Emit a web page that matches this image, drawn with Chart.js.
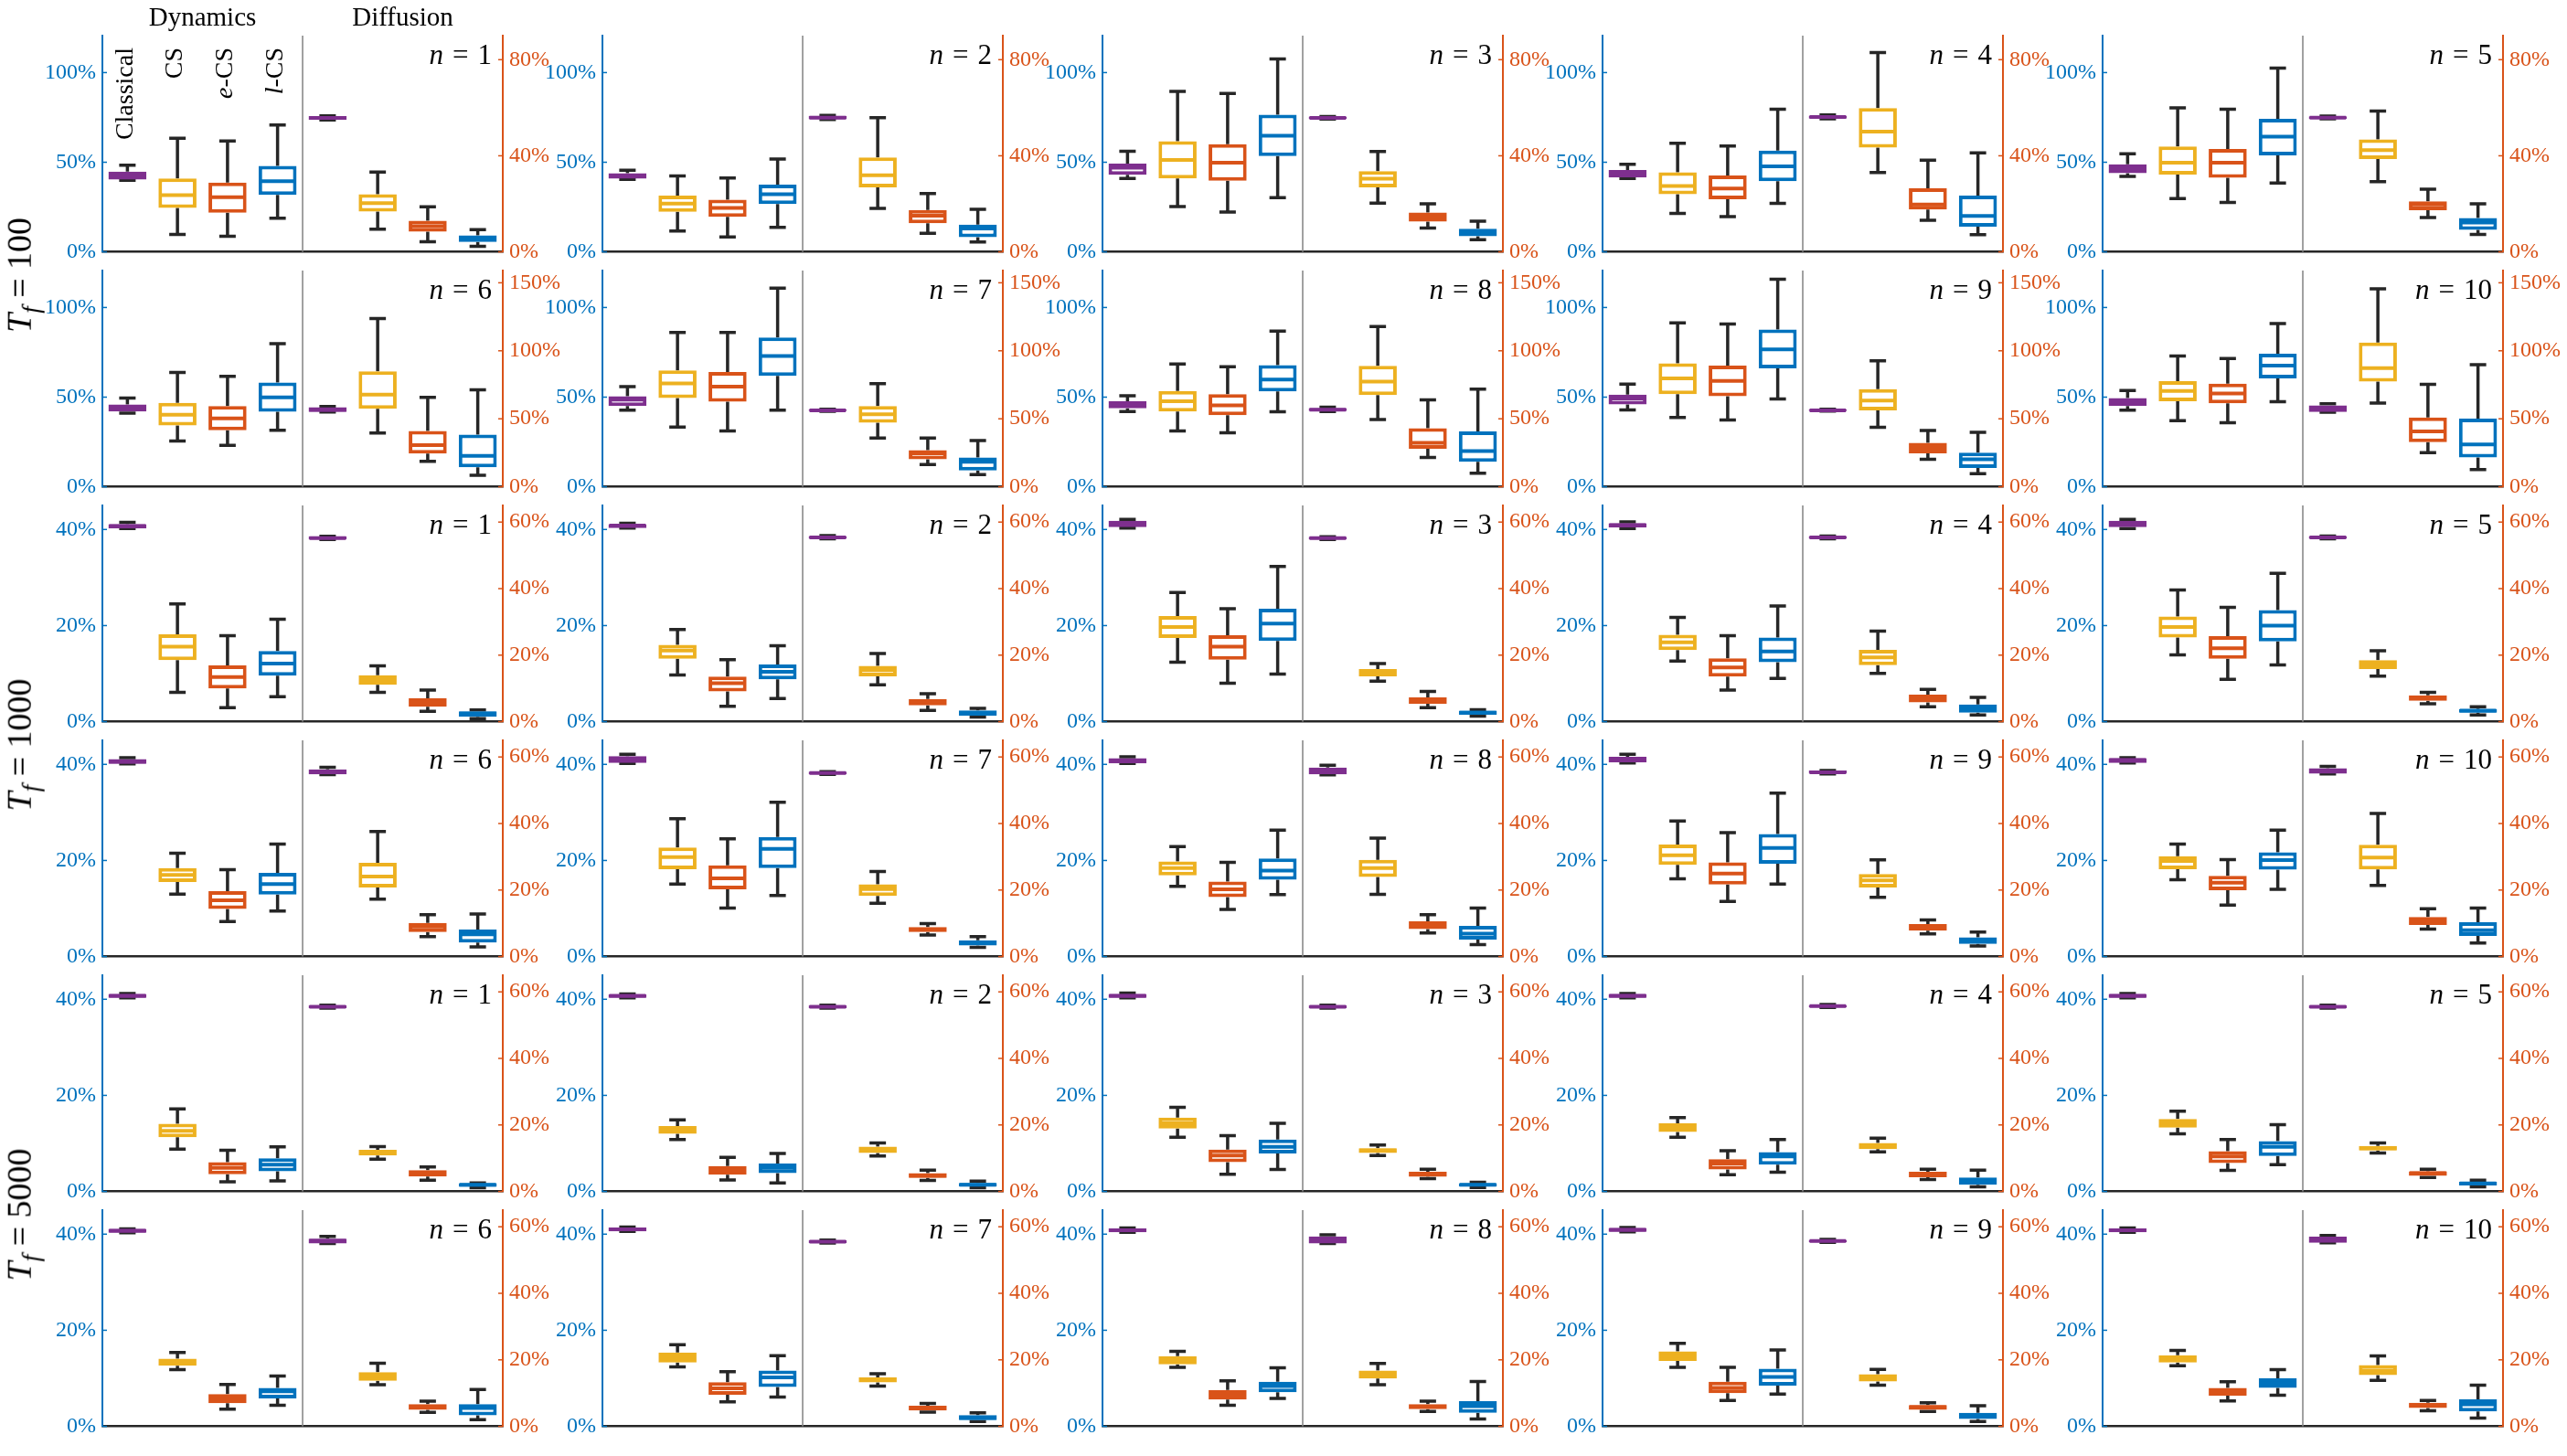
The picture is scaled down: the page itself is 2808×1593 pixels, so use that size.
<!DOCTYPE html>
<html>
<head>
<meta charset="utf-8">
<script src="https://cdn.jsdelivr.net/npm/chart.js@4.4.1/dist/chart.umd.min.js"></script>
<style>
  body { margin: 0; background: #fff; width: 2808px; height: 1593px; position: relative; overflow: hidden; font-family: "Liberation Serif", serif; }
  canvas { position: absolute; }
  .rowlab { position: absolute; font-size: 38px; white-space: nowrap; color: #000;
            transform: translate(-50%, -50%) rotate(-90deg); }
  .rowlab sub { font-size: 27px; }
</style>
</head>
<body>
<script>
// panel order: Tf = 100 (n = 1..10), Tf = 1000 (n = 1..10), Tf = 5000 (n = 1..10)
// every box is [lower whisker, q1, median, q3, upper whisker] in percent
const tfLabels = ['100', '1000', '5000'];
const methods = ['Classical', 'CS', 'e-CS', 'l-CS'];

// axis ranges for the six rows of panels
const leftMax = [120.6, 120.6, 45, 45, 45, 45];
const leftStep = [50, 50, 20, 20, 20, 20];
const rightMax = [90, 159, 65, 65, 65, 65];
const rightStep = [40, 50, 20, 20, 20, 20];

// dynamics (left axis)
const dynClassical = [
  [40, 40.3, 42.4, 44.8, 48.4], [40.4, 40.8, 42.4, 43.9, 45.5], [41, 43, 46.9, 49.3, 56.1], [41, 41.5, 43.9, 45.7, 48.9], [42.1, 43.9, 46.6, 48.9, 54.7],
  [41.1, 42, 44.1, 45.9, 49.5], [42.7, 45, 48.6, 50.5, 55.9], [42, 43.8, 45.9, 47.7, 50.8], [42.9, 45.9, 49.2, 51.4, 57.3], [42.7, 45, 47.4, 49.5, 53.7],
  [40.2, 40.2, 40.7, 41.1, 41.5], [40.3, 40.3, 40.8, 41.1, 41.3], [40.3, 40.5, 41.1, 41.8, 42.1], [40.2, 40.4, 40.9, 41.3, 41.6], [40.2, 40.5, 41.1, 41.8, 42.1],
  [40.1, 40.1, 40.6, 41.1, 41.4], [40.2, 40.3, 41.1, 41.7, 42.1], [40.2, 40.2, 40.8, 41.3, 41.6], [40.3, 40.4, 41.1, 41.6, 42.1], [40.3, 40.3, 40.9, 41.3, 41.4],
  [40.3, 40.3, 40.7, 41.1, 41.2], [40.3, 40.3, 40.7, 41, 41.1], [40.3, 40.3, 40.7, 41.1, 41.3], [40.3, 40.3, 40.7, 41.1, 41.2], [40.3, 40.3, 40.7, 41.1, 41.2],
  [40.3, 40.3, 40.7, 41.1, 41.1], [40.6, 40.6, 41, 41.4, 41.5], [40.4, 40.4, 40.8, 41.2, 41.3], [40.5, 40.5, 40.9, 41.3, 41.4], [40.4, 40.4, 40.8, 41.2, 41.3]
];
const dynCS = [
  [9.7, 24.5, 31.6, 41, 63.4], [11.6, 22.4, 26.9, 31.4, 42.4], [25.3, 41, 51.3, 61.7, 89.5], [21.5, 32.1, 36.8, 44.4, 60.6], [29.8, 43.1, 49.8, 58.8, 80.3],
  [25.6, 34.2, 40.2, 46.8, 63.8], [33.3, 49.5, 57.7, 64.9, 86.1], [31.2, 42, 47.7, 53.5, 68.5], [38.7, 51.7, 60.4, 68.8, 91.4], [36.9, 47.7, 53.5, 58.9, 73],
  [6.1, 12.8, 15.6, 18.2, 24.5], [9.7, 13.1, 14.8, 16, 19.2], [12.4, 17.4, 19.7, 22, 26.9], [12.6, 14.9, 16.5, 18.1, 21.7], [13.9, 17.5, 19.7, 21.9, 27.4],
  [13, 15.5, 17, 18.4, 21.5], [15.1, 18.2, 20.7, 22.7, 28.7], [14.6, 16.9, 18.4, 19.8, 22.9], [16.2, 19.1, 21.1, 23.3, 28.2], [16, 18.2, 19.9, 20.9, 23.4],
  [8.8, 11.3, 12.6, 14.1, 17.2], [10.8, 12, 12.8, 13.6, 14.9], [11.3, 13.1, 14.2, 15.4, 17.5], [11.3, 12.4, 13.4, 14.2, 15.4], [12, 13.3, 14.1, 15.1, 16.7],
  [11.8, 12.6, 13.5, 14.1, 15.4], [12.4, 13.3, 14.4, 15.4, 17], [12.3, 12.9, 13.8, 14.6, 15.6], [12.3, 13.6, 14.6, 15.6, 17.3], [12.6, 13.3, 14.1, 14.8, 15.8]
];
const dynECS = [
  [8.7, 21.8, 30.5, 38.6, 61.9], [8.3, 19.5, 24.5, 29.1, 41.2], [22.2, 39.7, 49.8, 60.1, 88.4], [19.7, 29.4, 35.4, 42.6, 59], [27.6, 41.3, 49.8, 57.4, 79.6],
  [23.1, 31.5, 38.2, 45, 61.6], [31.2, 47.4, 55.9, 64, 86.1], [30.1, 40, 45.4, 51.7, 67], [37.3, 50.5, 59.1, 67.6, 90.8], [35.7, 46.5, 52.1, 57.5, 71.5],
  [2.9, 6.9, 9.3, 11.7, 17.9], [3.2, 6.3, 8, 9.4, 12.9], [8, 12.9, 15.6, 18, 23.5], [6.6, 9.4, 11.3, 13.2, 17.9], [8.8, 13.1, 15.3, 17.8, 23.8],
  [7.3, 9.9, 11.7, 13.6, 18.1], [10.1, 14, 16.3, 19, 24.5], [9.8, 12.4, 14, 15.6, 19.6], [11.5, 15, 17.3, 19.6, 25.8], [10.7, 13.8, 15.4, 16.8, 20.2],
  [2, 3.6, 4.9, 6.1, 8.6], [2.4, 3.5, 4.4, 5.3, 7.1], [3.6, 6.1, 7.5, 8.7, 11.6], [3.5, 4.6, 5.8, 6.7, 8.5], [4.4, 5.9, 7.3, 8.4, 10.8],
  [3.6, 4.8, 5.8, 6.7, 8.7], [5.1, 6.6, 7.9, 9.2, 11.4], [4.4, 5.6, 6.6, 7.6, 9.5], [5.4, 6.9, 8, 9.3, 12.3], [5.3, 6.4, 7.3, 8, 9.3]
];
const dynLCS = [
  [18.8, 31.8, 39.4, 48, 70.8], [13.7, 26.7, 32.1, 37.5, 51.8], [30.3, 53.4, 64.8, 76.5, 107.6], [27.1, 39.4, 47.7, 56.5, 79.6], [38.4, 53.8, 64.3, 74.2, 102.5],
  [31.5, 41.8, 49.9, 58.2, 79.8], [42.7, 61.8, 73, 83.2, 110.8], [41.8, 53.2, 59.8, 67.9, 86.8], [49, 66.1, 76.6, 87.7, 115.7], [47.4, 60.4, 67.6, 74.2, 91],
  [5.2, 9.6, 12.1, 14.7, 21.3], [4.8, 8.8, 10.4, 11.9, 15.8], [9.9, 16.8, 20.4, 23.5, 32.3], [9, 12.4, 14.6, 17.5, 24.1], [11.8, 16.7, 20, 23.2, 30.9],
  [9.5, 12.9, 15.1, 17.4, 23.4], [12.7, 18.4, 22.4, 24.9, 32.1], [12.9, 16, 17.9, 20.4, 26.3], [15.1, 19.3, 22.6, 25.5, 34], [14, 18.1, 20.1, 21.7, 26.3],
  [2.2, 4.2, 5.6, 6.9, 9.3], [1.8, 3.8, 4.9, 5.8, 7.9], [4.6, 7.9, 9.3, 10.8, 14.2], [4, 5.6, 7.3, 8.2, 10.8], [5.6, 7.4, 9.3, 10.5, 13.9],
  [4.4, 5.8, 7.3, 8, 10.5], [6.1, 8.2, 10.2, 11.6, 14.7], [5.8, 7.1, 8.4, 9.3, 12.2], [6.7, 8.5, 10.3, 12, 15.9], [6.5, 8, 9, 10, 11.8]
];

// diffusion (right axis)
const difClassical = [
  [54.9, 54.9, 55.8, 56.5, 56.6], [55.1, 55.2, 55.9, 56.6, 56.8], [55.3, 55.3, 55.8, 56.3, 56.3], [55.4, 55.5, 56.1, 56.7, 57], [55.4, 55.4, 55.9, 56.4, 56.5],
  [55, 55, 56.7, 58.6, 59], [55.5, 55.6, 56.2, 56.8, 57], [55.4, 55.6, 56.7, 57.8, 58.5], [55.6, 55.7, 56.2, 56.8, 57], [54.8, 55, 57.4, 59.8, 61],
  [54.8, 54.8, 55.2, 55.7, 55.7], [55, 55, 55.4, 55.8, 55.9], [54.8, 54.8, 55.2, 55.6, 55.6], [55, 55, 55.4, 55.8, 55.8], [55, 55, 55.4, 55.8, 55.8],
  [54.7, 54.8, 55.6, 56.3, 56.9], [54.8, 54.8, 55.2, 55.6, 55.6], [54.6, 54.8, 55.9, 56.8, 57.5], [54.9, 55, 55.4, 55.9, 55.9], [54.9, 55, 55.9, 56.6, 57.2],
  [55.1, 55.1, 55.5, 55.9, 56], [55.1, 55.1, 55.5, 55.9, 56], [55.1, 55.1, 55.5, 55.9, 56], [55.3, 55.3, 55.7, 56.1, 56.2], [55.1, 55.1, 55.5, 55.9, 56],
  [55, 55, 55.8, 56.4, 57.1], [55.1, 55.1, 55.5, 55.9, 56], [55, 55, 56.1, 57.1, 57.6], [55.3, 55.3, 55.7, 56.1, 56.2], [55.2, 55.2, 56.1, 57, 57.4]
];
const difCS = [
  [9.5, 16.8, 20.3, 24, 33.2], [18.1, 26.9, 31.9, 39.3, 55.9], [20.3, 26.9, 30.5, 33.6, 41.8], [33, 43.4, 50.1, 59.9, 83], [29.2, 38.6, 42.4, 46.8, 58.6],
  [39.5, 57.4, 67.7, 84.9, 123.7], [35.9, 47.1, 53.3, 59.3, 75.8], [49.5, 67.5, 77.3, 89, 117.9], [43.8, 56.2, 63.4, 71.8, 92.6], [61.5, 77.3, 87.3, 106, 145.5],
  [8.8, 11.1, 12.5, 14, 16.8], [11.1, 13.6, 15.5, 16.8, 20.5], [12.2, 13.6, 14.7, 15.8, 17.5], [14.5, 17, 19.3, 21.6, 27.2], [13.7, 15.8, 17.2, 18.5, 21.3],
  [17.3, 20.8, 24.1, 28.2, 37.6], [16, 18.2, 20.3, 21.7, 25.6], [18.7, 23.9, 26.6, 29.1, 35.6], [17.8, 20.8, 22.9, 24.8, 29.1], [21.4, 26.2, 29.8, 33.6, 43],
  [9.7, 10.8, 11.6, 12.5, 13.5], [10.7, 11.6, 12.5, 13.5, 14.6], [10.8, 11.6, 12.3, 13, 14], [11.9, 12.7, 13.8, 14.6, 16], [11.6, 12.3, 13, 13.7, 14.6],
  [12.5, 13.7, 15.1, 16.3, 19], [12.1, 13.2, 14, 14.7, 15.8], [12.5, 14.4, 15.7, 16.8, 18.9], [12.4, 13.5, 14.6, 15.7, 17.1], [13.8, 15.4, 16.8, 18.4, 21.2]
];
const difECS = [
  [4.2, 8.4, 10.7, 13, 18.8], [7.7, 11.9, 15.1, 17.4, 24.3], [9.9, 12.6, 14.6, 16.4, 20], [13.2, 17.6, 19.7, 26.5, 38.2], [14.3, 17.3, 19.7, 21.1, 26.1],
  [18.7, 24.4, 30.6, 41.1, 65.8], [16.3, 20.3, 24.6, 27, 35.9], [21.5, 28, 32.3, 43.1, 63.9], [20.3, 24.6, 28.7, 32.3, 41.4], [25.1, 32.8, 40.7, 51, 75.4],
  [3.1, 4.5, 5.8, 7, 9.5], [3.4, 4.9, 5.8, 6.8, 8.4], [4.2, 5.4, 6.4, 7.3, 9.1], [4.5, 5.8, 7, 8.1, 9.7], [5.4, 6.3, 7.2, 7.9, 8.8],
  [6, 7.4, 9, 10.1, 12.6], [6.5, 7.4, 8.1, 8.9, 9.9], [7.1, 8.3, 9.7, 10.6, 12.6], [6.8, 7.8, 8.8, 9.8, 11], [8.3, 9.5, 10.7, 11.9, 14.4],
  [3.4, 4.5, 5.5, 6.4, 7.4], [3.3, 4.1, 4.8, 5.5, 6.4], [3.9, 4.4, 5.2, 5.9, 6.7], [3.6, 4.3, 5.3, 5.9, 6.7], [4.2, 4.7, 5.5, 6.1, 6.7],
  [4.2, 5, 5.9, 6.7, 7.6], [4.3, 4.8, 5.5, 6.2, 6.9], [4.5, 5.2, 5.9, 6.7, 7.6], [4.5, 5, 5.8, 6.4, 7.1], [4.7, 5.5, 6.2, 7.1, 7.8]
];
const difLCS = [
  [2.3, 4.1, 5.5, 6.9, 9.3], [4.1, 6.1, 9.7, 11.4, 17.7], [5.1, 6.5, 8.2, 9.6, 12.8], [7.2, 10.5, 15, 23.4, 41.2], [7.3, 9.2, 12.2, 14.1, 20],
  [8.4, 14.4, 22.7, 38.3, 71.3], [8.9, 12, 18.4, 21.5, 34], [10, 18.4, 26.3, 40.7, 71.8], [9.6, 13.9, 20.3, 25.1, 40], [12.7, 21.5, 31.1, 50.2, 89.7],
  [0.9, 1.5, 2.4, 3.1, 3.5], [1.4, 1.8, 2.6, 3.4, 4], [1.7, 2.1, 2.7, 3.3, 3.6], [2, 2.7, 4, 5.2, 7.3], [2, 2.7, 3.3, 3.8, 4.5],
  [2.9, 4.2, 6.7, 8.1, 12.8], [2.8, 3.3, 4.2, 4.9, 6], [3.6, 5.1, 6.9, 9.2, 14.6], [3.2, 3.8, 5, 5.8, 7.4], [4.1, 6.2, 7.9, 10.3, 14.6],
  [1.1, 1.4, 2, 2.5, 2.6], [1.1, 1.5, 2, 2.6, 3.1], [1.2, 1.5, 2, 2.5, 2.8], [1.4, 2, 3.1, 4.2, 6.4], [1.4, 1.8, 2.4, 2.9, 3.4],
  [2, 3.3, 5.5, 6.7, 11.1], [1.5, 1.9, 2.6, 3.4, 4.1], [2.2, 4.1, 6.1, 7.6, 13.5], [1.5, 2.2, 3.1, 4.1, 6.2], [2.5, 4.5, 6.6, 8.1, 12.4]
];

const BLUE = '#0072BD', ORANGE = '#D95319', YELLOW = '#EDB120', PURPLE = '#7E2F8E';
const boxColors = [PURPLE, YELLOW, ORANGE, BLUE];
const FONT = '"Liberation Serif", serif';

const PLOT_W = 438, PLOT_H = 238, SIDE = 66, PT = 39, PB = 20;
const colX = c => 112 + 547 * c;
const rowY = r => 39 + 257 * r;

// draws a run of text pieces, some of them italic
function drawRich(ctx, parts, x, y, align, size) {
  let total = 0;
  parts.forEach(p => {
    if (p.g) { p.w = p.g; } else {
      ctx.font = (p.i ? 'italic ' : '') + size + 'px ' + FONT;
      p.w = ctx.measureText(p.t).width;
    }
    total += p.w;
  });
  let cx = align === 'right' ? x - total : align === 'center' ? x - total / 2 : x;
  ctx.textAlign = 'left';
  parts.forEach(p => {
    if (!p.g) {
      ctx.font = (p.i ? 'italic ' : '') + size + 'px ' + FONT;
      ctx.fillText(p.t, cx, y);
    }
    cx += p.w;
  });
}

const boxPlugin = {
  id: 'boxes',
  beforeDatasetsDraw(chart) {
    const ctx = chart.ctx, area = chart.chartArea, xs = chart.scales.x;
    ctx.save();
    // divider between the two groups
    const xd = (xs.getPixelForValue(3) + xs.getPixelForValue(4)) / 2;
    ctx.strokeStyle = '#8a8a8a';
    ctx.lineWidth = 1.6;
    ctx.beginPath(); ctx.moveTo(xd, area.top); ctx.lineTo(xd, area.bottom); ctx.stroke();
    // whiskers
    ctx.strokeStyle = '#262626';
    ctx.lineWidth = 3.5;
    chart.data.datasets.forEach(ds => {
      const ys = chart.scales[ds.yAxisID];
      ds.stats.forEach((b, j) => {
        if (!b) return;
        const x = xs.getPixelForValue(j);
        const yLo = ys.getPixelForValue(b[0]), yQ1 = ys.getPixelForValue(b[1]);
        const yQ3 = ys.getPixelForValue(b[3]), yHi = ys.getPixelForValue(b[4]);
        ctx.beginPath();
        ctx.moveTo(x, yLo); ctx.lineTo(x, yQ1);
        ctx.moveTo(x, yQ3); ctx.lineTo(x, yHi);
        ctx.moveTo(x - 9, yLo); ctx.lineTo(x + 9, yLo);
        ctx.moveTo(x - 9, yHi); ctx.lineTo(x + 9, yHi);
        ctx.stroke();
      });
    });
    ctx.restore();
  },
  afterDatasetsDraw(chart) {
    const ctx = chart.ctx;
    ctx.save();
    ctx.lineWidth = 4;
    chart.data.datasets.forEach((ds, i) => {
      const ys = chart.scales[ds.yAxisID];
      const meta = chart.getDatasetMeta(i);
      ds.stats.forEach((b, j) => {
        if (!b) return;
        const bar = meta.data[j];
        const y = ys.getPixelForValue(b[2]);
        ctx.strokeStyle = boxColors[j % 4];
        ctx.beginPath();
        ctx.moveTo(bar.x - bar.width / 2 + 1, y); ctx.lineTo(bar.x + bar.width / 2 - 1, y);
        ctx.stroke();
      });
    });
    ctx.restore();
  },
  afterDraw(chart) {
    const ctx = chart.ctx, area = chart.chartArea, xs = chart.scales.x;
    const o = chart.options.plugins.boxes;
    ctx.save();
    // inward tick marks
    ctx.lineWidth = 1.5;
    [['yL', BLUE, 1], ['yR', ORANGE, -1]].forEach(([id, col, dir]) => {
      const s = chart.scales[id];
      const x0 = dir > 0 ? area.left : area.right;
      ctx.strokeStyle = col;
      s.ticks.forEach(t => {
        const y = s.getPixelForValue(t.value);
        ctx.beginPath(); ctx.moveTo(x0, y); ctx.lineTo(x0 + 5 * dir, y); ctx.stroke();
      });
    });
    ctx.fillStyle = '#000';
    ctx.textBaseline = 'alphabetic';
    drawRich(ctx, [{ t: 'n', i: 1 }, { g: 10 }, { t: '=' }, { g: 10 }, { t: String(o.n) }],
      area.right - 12, area.top + 31, 'right', 31);
    if (o.first) {
      const xd = (xs.getPixelForValue(3) + xs.getPixelForValue(4)) / 2;
      drawRich(ctx, [{ t: 'Dynamics' }], (area.left + xd) / 2, area.top - 11, 'center', 29);
      drawRich(ctx, [{ t: 'Diffusion' }], (xd + area.right) / 2, area.top - 11, 'center', 29);
      const names = [[{ t: 'Classical' }], [{ t: 'CS' }], [{ t: 'e', i: 1 }, { t: '-CS' }], [{ t: 'l', i: 1 }, { t: '-CS' }]];
      ctx.textBaseline = 'middle';
      names.forEach((parts, j) => {
        ctx.save();
        ctx.translate(xs.getPixelForValue(j) - 2, area.top + 13);
        ctx.rotate(-Math.PI / 2);
        drawRich(ctx, parts, 0, 0, 'right', 28);
        ctx.restore();
      });
    }
    ctx.restore();
  }
};

function yAxis(pos, max, step, color) {
  return {
    type: 'linear', position: pos, min: 0, max: max,
    grid: { display: false, drawTicks: false },
    border: { color: color, width: 2 },
    ticks: { stepSize: step, includeBounds: false, color: color, padding: 7,
             font: { family: FONT, size: 24 }, callback: v => v + '%' },
    afterFit: s => { s.width = SIDE; }
  };
}

const dynSets = [dynClassical, dynCS, dynECS, dynLCS];
const difSets = [difClassical, difCS, difECS, difLCS];
const barColors = boxColors.concat(boxColors);

for (let p = 0; p < 30; p++) {
  const tf = Math.floor(p / 10), k = p % 10;
  const r = tf * 2 + Math.floor(k / 5), c = k % 5;
  const cv = document.createElement('canvas');
  cv.width = PLOT_W + 2 * SIDE;
  cv.height = PT + PLOT_H + PB;
  cv.style.left = (colX(c) - SIDE) + 'px';
  cv.style.top = (rowY(r) - PT) + 'px';
  document.body.appendChild(cv);

  const dyn = dynSets.map(s => s[p]);
  const dif = difSets.map(s => s[p]);
  const none = [null, null, null, null];
  const barStyle = { backgroundColor: '#ffffff', borderColor: barColors, borderWidth: 4, borderSkipped: false };

  new Chart(cv, {
    type: 'bar',
    data: {
      labels: methods.concat(methods),
      datasets: [
        Object.assign({ label: 'Dynamics', yAxisID: 'yL', data: dyn.map(b => [b[1], b[3]]).concat(none), stats: dyn.concat(none) }, barStyle),
        Object.assign({ label: 'Diffusion', yAxisID: 'yR', data: none.concat(dif.map(b => [b[1], b[3]])), stats: none.concat(dif) }, barStyle)
      ]
    },
    options: {
      responsive: false,
      animation: false,
      layout: { padding: { top: PT, bottom: 0, left: 0, right: 0 } },
      datasets: { bar: { grouped: false, barPercentage: 0.76, categoryPercentage: 1 } },
      plugins: {
        colors: { enabled: false },
        legend: { display: false },
        tooltip: { enabled: false },
        boxes: { n: k + 1, first: p === 0 }
      },
      scales: {
        x: { type: 'category', grid: { display: false, drawTicks: false }, ticks: { display: false },
             border: { color: '#262626', width: 2.5 }, afterFit: s => { s.height = PB; } },
        yL: yAxis('left', leftMax[r], leftStep[r], BLUE),
        yR: yAxis('right', rightMax[r], rightStep[r], ORANGE)
      }
    },
    plugins: [boxPlugin]
  });
}

// row titles T_f = ...
tfLabels.forEach((t, i) => {
  const d = document.createElement('div');
  d.className = 'rowlab';
  d.innerHTML = '<i>T</i><sub><i>f</i></sub> = ' + t;
  d.style.left = '24px';
  d.style.top = (rowY(2 * i + 1) + 5) + 'px';
  document.body.appendChild(d);
});
</script>
</body>
</html>
